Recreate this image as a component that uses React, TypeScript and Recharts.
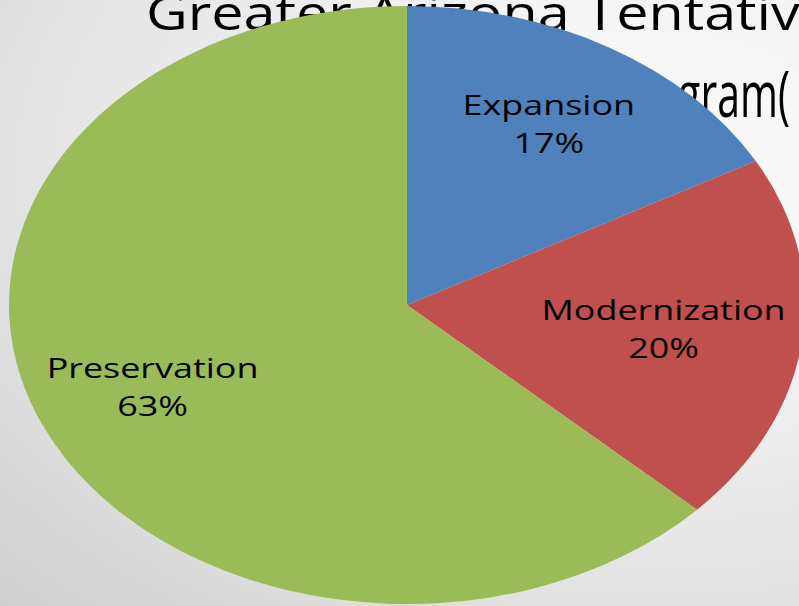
import { PieChart, Pie, Cell } from "recharts";

// slice data, clockwise from 12 o'clock
const categories = ["Expansion", "Modernization", "Preservation"];
const shares = [17, 20, 63];
const sliceColors = ["#4F81BD", "#C0504D", "#9BBB59"];
const titleLines = ["Greater Arizona Tentative", "Program("];

const data = categories.map((name, i) => ({ name, value: shares[i] }));

const W = 799;
const H = 606;
const CX = 407;
const CY = 305;
const R = 299;
// the slide image is stretched sideways, so the pie is an ellipse
const STRETCH = 1.331;
const RADIAN = Math.PI / 180;
const LABEL_FONT = 27;

// label sits at 70% of the radius, pulled inward until the name fits in the slice
function SliceLabel(props: any) {
  const { cx, cy, midAngle, outerRadius, percent } = props;
  const name: string = props.name ?? props.payload?.name ?? "";
  const half = (name.length * LABEL_FONT * 0.52) / 2;
  const limit = outerRadius - 14;
  let r = outerRadius * 0.7;
  let x = cx;
  let y = cy;
  for (; r > 0; r -= 1) {
    x = cx + r * Math.cos(-midAngle * RADIAN);
    y = cy + r * Math.sin(-midAngle * RADIAN);
    const ex = Math.max(Math.abs(x - cx - half), Math.abs(x - cx + half));
    const ey = Math.max(Math.abs(y - 28.5 - cy), Math.abs(y - 9.5 - cy));
    if (Math.hypot(ex, ey) <= limit) break;
  }
  return (
    <text
      x={x}
      y={y}
      textAnchor="middle"
      fill="#000"
      fontSize={LABEL_FONT}
      fontFamily="'Open Sans', sans-serif"
    >
      <tspan x={x} y={y - 9.5}>
        {name}
      </tspan>
      <tspan x={x} y={y + 28.5}>{`${Math.round(percent * 100)}%`}</tspan>
    </text>
  );
}

export default function App() {
  return (
    <div
      style={{
        position: "absolute",
        left: 0,
        top: 0,
        width: W,
        height: H,
        overflow: "hidden",
        background:
          "radial-gradient(ellipse at 82% 28%, #fbfbfb 0%, #f2f2f2 35%, #e2e2e2 70%, #cfcfcf 100%)",
      }}
    >
      {/* slide title, sits behind the pie */}
      <svg
        width={W}
        height={H}
        style={{ position: "absolute", left: 0, top: 0 }}
      >
        <text
          x={146}
          y={30}
          fontSize={48}
          fill="#000"
          fontFamily="'Open Sans', sans-serif"
          textLength={686}
          lengthAdjust="spacingAndGlyphs"
        >
          {titleLines[0]}
        </text>
        <text
          x={612}
          y={117}
          fontSize={64}
          fill="#000"
          fontFamily="'Open Sans', sans-serif"
          textLength={178}
          lengthAdjust="spacingAndGlyphs"
        >
          {titleLines[1]}
        </text>
      </svg>

      <div
        style={{
          position: "absolute",
          left: 0,
          top: 0,
          transformOrigin: `${CX}px ${CY}px`,
          transform: `scaleX(${STRETCH})`,
        }}
      >
        <PieChart
          width={W}
          height={H}
          margin={{ top: 0, right: 0, bottom: 0, left: 0 }}
        >
          <Pie
            data={data}
            dataKey="value"
            nameKey="name"
            cx={CX}
            cy={CY}
            outerRadius={R}
            startAngle={90}
            endAngle={-270}
            stroke="none"
            labelLine={false}
            label={SliceLabel}
            isAnimationActive={false}
          >
            {data.map((entry, i) => (
              <Cell key={entry.name} fill={sliceColors[i]} />
            ))}
          </Pie>
        </PieChart>
      </div>
    </div>
  );
}
